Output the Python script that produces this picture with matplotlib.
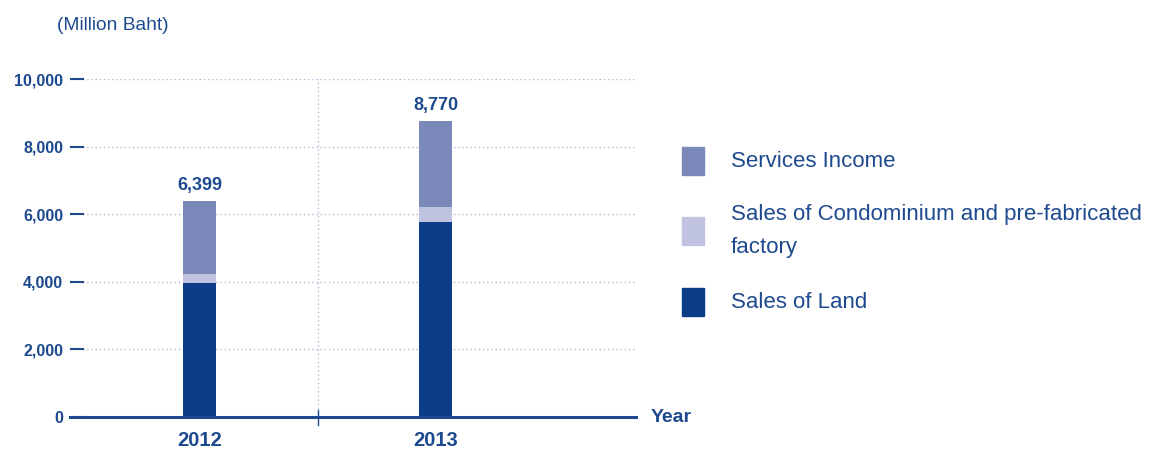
import numpy as np
import matplotlib.pyplot as plt
from matplotlib.patches import Rectangle

years = ['2012', '2013']
sales_land = [3970, 5760]
sales_condo = [270, 450]
services = [2159, 2560]
totals = [6399, 8770]
labels = ['Services Income', 'Sales of Condominium and pre-fabricated\nfactory', 'Sales of Land']

c_land = '#0b3d89'
c_condo = '#c0c3df'
c_serv = '#7b88ba'
c_text = '#1d4a8e'
c_grid = '#b3b6d9'

plt.rcParams['font.family'] = ['Liberation Sans', 'DejaVu Sans']

fig = plt.figure(figsize=(11.49, 4.49), dpi=100)
ax = fig.add_axes([70/1149, 1-417/449, 566/1149, 338/449])

x = np.arange(len(years))
w = 0.14
land = np.array(sales_land)
condo = np.array(sales_condo)
ax.bar(x, land, w, color=c_land, zorder=3)
ax.bar(x, condo, w, bottom=land, color=c_condo, zorder=3)
ax.bar(x, services, w, bottom=land + condo, color=c_serv, zorder=3)

for xi, t in zip(x, totals):
    ax.text(xi, t + 200, f'{t:,}', ha='center', va='bottom', fontsize=13,
            fontweight='bold', color=c_text)

ax.set_xlim(-0.55, 1.85)
ax.set_ylim(0, 10000)
yt = np.arange(0, 10001, 2000)
ax.set_yticks(yt)
ax.set_yticklabels([f'{v:,}' for v in yt], fontsize=11.5, fontweight='bold', color=c_text)
ax.tick_params(axis='y', direction='in', length=10, width=1.5, color=c_text, pad=5)
ax.set_xticks(x)
ax.set_xticklabels(years, fontsize=14.5, fontweight='bold', color=c_text)
ax.tick_params(axis='x', length=0, pad=10)

ax.grid(axis='y', linestyle=(0, (1, 2)), color=c_grid, linewidth=1, zorder=0)
ax.axvline(0.5, linestyle=(0, (1, 2)), color=c_grid, linewidth=1, zorder=0)
ax.plot([0.5, 0.5], [-0.025, 0.02], transform=ax.get_xaxis_transform(),
        color=c_text, linewidth=1, clip_on=False, zorder=4)

for s in ['top', 'right', 'left']:
    ax.spines[s].set_visible(False)
ax.spines['bottom'].set_color(c_text)
ax.spines['bottom'].set_linewidth(2.2)
ax.spines['bottom'].set_zorder(5)

fig.text(57/1149, 1-25/449, '(Million Baht)', fontsize=13.8, color=c_text, va='center')
fig.text(651/1149, 1-417/449, 'Year', fontsize=14, fontweight='bold', color=c_text, va='center')

# legend
leg_colors = [c_serv, c_condo, c_land]
leg_y = [161, 231, 302]
for col, lab, yy in zip(leg_colors, labels, leg_y):
    fig.patches.append(Rectangle((682/1149, 1-(yy+14)/449), 22/1149, 28/449,
                                 transform=fig.transFigure, color=col))
    fig.text(731/1149, 1-yy/449, lab, fontsize=16, color=c_text, va='center',
             linespacing=1.75)

plt.savefig('out.png')
